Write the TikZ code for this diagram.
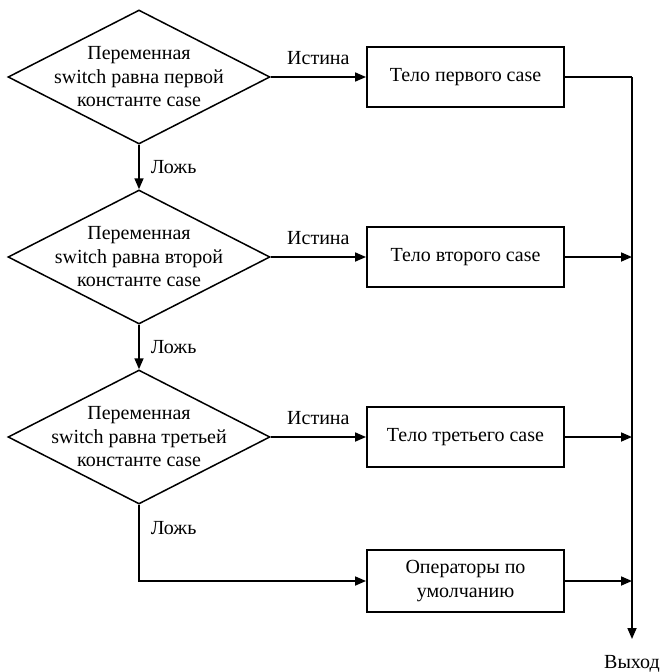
\documentclass[tikz,border=0pt]{standalone}
\usepackage{fontspec}
\setmainfont{Liberation Serif}
\usetikzlibrary{shapes.geometric,arrows.meta}
\begin{document}
\begin{tikzpicture}[x=1pt,y=-1pt,
  line width=1.7pt,
  font=\fontsize{20}{23.5}\selectfont,
  decision/.style={diamond, draw, line width=1.5pt, inner sep=0pt, minimum width=262pt, minimum height=134pt},
  caption/.style={align=center, inner sep=0pt},
  stepbox/.style={rectangle, draw, line width=1.9pt, minimum width=197pt, minimum height=60pt, align=center},
  flow/.style={-{Triangle[length=11pt,width=9pt]}},
  lbl/.style={inner sep=0pt}
]
\useasboundingbox (0,0) rectangle (664,672);

% conditions
\node[decision, label={[caption]center:Переменная\\switch равна первой\\константе case}] (d1) at (139,77) {};
\node[decision, label={[caption]center:Переменная\\switch равна второй\\константе case}] (d2) at (139,257) {};
\node[decision, label={[caption]center:Переменная\\switch равна третьей\\константе case}] (d3) at (139,437) {};

% case bodies
\node[stepbox] (b1) at (465.5,77) {Тело первого case};
\node[stepbox] (b2) at (465.5,257) {Тело второго case};
\node[stepbox] (b3) at (465.5,437) {Тело третьего case};
\node[stepbox, minimum height=62pt] (b4) at (465.5,581) {Операторы по\\умолчанию};

% exit bus
\coordinate (bus) at (632,77);
\coordinate (busend) at (632,639);
\node[lbl, anchor=north] (exit) at (632,655) {Выход};

% true branches
\draw[flow] (d1.east) -- node[lbl, above=11pt] {Истина} (b1.west);
\draw[flow] (d2.east) -- node[lbl, above=11pt] {Истина} (b2.west);
\draw[flow] (d3.east) -- node[lbl, above=11pt] {Истина} (b3.west);

% false branches
\draw[flow] (d1.south) -- node[lbl, anchor=west, xshift=11pt] {Ложь} (d2.north);
\draw[flow] (d2.south) -- node[lbl, anchor=west, xshift=11pt] {Ложь} (d3.north);
\draw[flow] (d3.south) |- node[lbl, pos=0.15, anchor=west, xshift=11pt] {Ложь} (b4.west);

% joins into the exit
\draw (b1.east) -- (bus);
\draw[flow] (bus) -- (busend);
\draw[flow] (b2.east) -- (b2.east -| bus);
\draw[flow] (b3.east) -- (b3.east -| bus);
\draw[flow] (b4.east) -- (b4.east -| bus);
\end{tikzpicture}
\end{document}
